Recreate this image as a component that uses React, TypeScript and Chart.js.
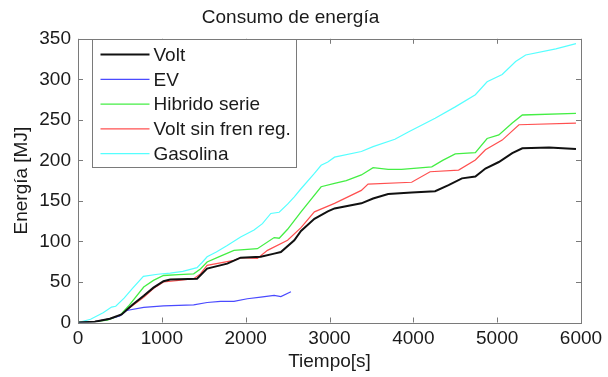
import React, { useEffect, useRef } from "react";
import { Chart, registerables } from "chart.js";

Chart.register(...registerables);

// ---- data (time in s, energy in MJ) ----
const seriesLabels = ["Volt", "EV", "Hibrido serie", "Volt sin fren reg.", "Gasolina"];

const voltT = [0, 200, 380, 520, 650, 784, 900, 1020, 1100, 1420, 1540, 1780, 1940, 2180, 2340, 2420, 2580, 2660, 2820, 2980, 3060, 3380, 3520, 3700, 3980, 4260, 4420, 4580, 4740, 4860, 5020, 5180, 5300, 5620, 5940];
const voltE = [0, 1, 4.6, 10, 22, 33, 43, 51, 53, 54, 66.5, 72.6, 80, 81, 85, 87, 101.5, 113, 128, 137, 140.7, 147, 153, 158.4, 160.5, 162, 169.5, 177.8, 180, 190, 198, 209, 215, 216, 214];

const evT = [0, 200, 380, 500, 580, 784, 1020, 1380, 1540, 1700, 1860, 2020, 2180, 2340, 2420, 2540];
const evE = [0, 1, 4.6, 8, 14.8, 18.6, 20.6, 21.8, 24.7, 26, 26, 29.3, 31.4, 33.4, 32, 38];

const hibT = [0, 200, 350, 500, 600, 784, 900, 1020, 1200, 1380, 1460, 1540, 1700, 1860, 2140, 2340, 2400, 2500, 2660, 2900, 3060, 3200, 3380, 3520, 3700, 3860, 4220, 4350, 4500, 4740, 4880, 5020, 5180, 5300, 5940];
const hibE = [0, 1, 3, 8.6, 20, 43.7, 52, 58, 59, 60, 66, 74.6, 82, 89, 91, 104.8, 104, 115, 136.5, 167.5, 171.6, 175, 182, 191, 189, 189, 192, 200, 208, 209.5, 227, 231.4, 246, 256, 258];

const sinT = [0, 200, 380, 500, 600, 784, 900, 1020, 1200, 1380, 1460, 1540, 1860, 1940, 2140, 2260, 2500, 2660, 2820, 3060, 3140, 3380, 3460, 3980, 4200, 4540, 4740, 4860, 5060, 5260, 5940];
const sinE = [0, 1, 4.6, 8.6, 17, 31, 42, 50, 52, 54, 60, 70.5, 76.7, 80, 79, 89, 101.5, 117, 136.5, 147, 151, 163, 170.8, 173, 186, 188, 200.5, 213, 225, 244, 246];

const gasT = [0, 150, 300, 400, 450, 550, 650, 780, 950, 1100, 1250, 1420, 1480, 1540, 1650, 1780, 1940, 2100, 2200, 2300, 2400, 2500, 2580, 2660, 2820, 2900, 2980, 3060, 3380, 3520, 3780, 3940, 4260, 4500, 4740, 4880, 5060, 5220, 5340, 5700, 5940];
const gasE = [0, 4, 12, 19, 20, 30, 42, 57, 59.5, 61, 63, 67.7, 74, 81, 87, 95, 105.6, 114, 122, 134.5, 136, 146, 155, 165, 184, 194, 198, 204, 211, 217, 226, 235, 252, 266, 281, 297, 306, 322, 330, 337.5, 344];

const xTickValues = [0, 1000, 2000, 3000, 4000, 5000, 6000];
const yTickValues = [0, 50, 100, 150, 200, 250, 300, 350];

const FONT = '"Liberation Sans", Arial, sans-serif';
const TEXT = "#1a1a1a";
const FRAME = "#7a7a7a";

const toPts = (t: number[], e: number[]) => t.map((v, i) => ({ x: v, y: e[i] }));

const framePlugin = {
  id: "matlabFrame",
  afterDraw(chart: any) {
    const { ctx, chartArea } = chart;
    const { left, right, top, bottom } = chartArea;
    const xs = chart.scales.x;
    const ys = chart.scales.y;
    ctx.save();
    ctx.strokeStyle = FRAME;
    ctx.lineWidth = 1;
    ctx.strokeRect(Math.round(left) + 0.5, Math.round(top) + 0.5, Math.round(right - left), Math.round(bottom - top));
    const tl = 5;
    ctx.beginPath();
    xTickValues.forEach((v) => {
      const px = Math.round(xs.getPixelForValue(v)) + 0.5;
      ctx.moveTo(px, bottom);
      ctx.lineTo(px, bottom - tl);
      ctx.moveTo(px, top);
      ctx.lineTo(px, top + tl);
    });
    yTickValues.forEach((v) => {
      const py = Math.round(ys.getPixelForValue(v)) + 0.5;
      ctx.moveTo(left, py);
      ctx.lineTo(left + tl, py);
      ctx.moveTo(right, py);
      ctx.lineTo(right - tl, py);
    });
    ctx.stroke();

    // legend box
    const lx = Math.round(left + 14) + 0.5;
    const ly = Math.round(top) + 0.5;
    const lw = 204;
    const lh = 128;
    ctx.fillStyle = "#ffffff";
    ctx.fillRect(lx, ly, lw, lh);
    ctx.strokeRect(lx, ly, lw, lh);
    ctx.font = `19px ${FONT}`;
    ctx.textBaseline = "middle";
    ctx.textAlign = "left";
    chart.data.datasets.forEach((ds: any, i: number) => {
      const ry = ly + 15 + i * 24.8;
      ctx.strokeStyle = ds.borderColor;
      ctx.lineWidth = ds.borderWidth;
      ctx.beginPath();
      ctx.moveTo(lx + 8, ry);
      ctx.lineTo(lx + 57, ry);
      ctx.stroke();
      ctx.fillStyle = TEXT;
      ctx.fillText(ds.label, lx + 61, ry + 1);
    });
    ctx.restore();
  },
};

export default function App() {
  const ref = useRef<HTMLCanvasElement | null>(null);
  useEffect(() => {
    if (!ref.current) return;
    const colors = ["#111111", "#4a4aff", "#44ee44", "#ff5050", "#55ffff"];
    const widths = [2, 1.2, 1.3, 1.2, 1.2];
    const pts = [toPts(voltT, voltE), toPts(evT, evE), toPts(hibT, hibE), toPts(sinT, sinE), toPts(gasT, gasE)];
    const chart = new Chart(ref.current, {
      type: "line",
      data: {
        datasets: pts.map((d, i) => ({
          label: seriesLabels[i],
          data: d,
          borderColor: colors[i],
          backgroundColor: colors[i],
          borderWidth: widths[i],
          pointRadius: 0,
          tension: 0,
          fill: false,
        })),
      },
      options: {
        animation: false,
        responsive: false,
        maintainAspectRatio: false,
        layout: { padding: { left: 0, right: 27, top: 0, bottom: 0 } },
        plugins: {
          legend: { display: false },
          tooltip: { enabled: false },
          title: {
            display: true,
            text: "Consumo de energía",
            color: TEXT,
            font: { family: FONT, size: 19, weight: "normal" },
            padding: { top: 6, bottom: 10 },
          },
        },
        scales: {
          x: {
            type: "linear",
            min: 0,
            max: 6000,
            afterBuildTicks: (s: any) => {
              s.ticks = xTickValues.map((v) => ({ value: v }));
            },
            afterFit: (s: any) => {
              s.height = 54.5;
            },
            grid: { display: false, drawTicks: false },
            border: { display: false },
            ticks: {
              color: TEXT,
              font: { family: FONT, size: 19 },
              padding: 5,
              maxRotation: 0,
              autoSkip: false,
              callback: (v: any) => String(v),
            },
            title: {
              display: true,
              text: "Tiempo[s]",
              color: TEXT,
              font: { family: FONT, size: 19 },
              padding: { top: 4, bottom: 4 },
            },
          },
          y: {
            type: "linear",
            min: 0,
            max: 350,
            afterBuildTicks: (s: any) => {
              s.ticks = yTickValues.map((v) => ({ value: v }));
            },
            afterFit: (s: any) => {
              s.width = 78;
            },
            grid: { display: false, drawTicks: false },
            border: { display: false },
            ticks: {
              color: TEXT,
              font: { family: FONT, size: 19 },
              padding: 7,
              autoSkip: false,
              callback: (v: any) => String(v),
            },
            title: {
              display: true,
              text: "Energía [MJ]",
              color: TEXT,
              font: { family: FONT, size: 19 },
              padding: { top: 10, bottom: 10 },
            },
          },
        },
      },
      plugins: [framePlugin],
    });
    return () => chart.destroy();
  }, []);
  return (
    <div style={{ position: "absolute", left: 0, top: 0, width: 608, height: 377, background: "#fff" }}>
      <canvas ref={ref} width={608} height={377} style={{ display: "block" }} />
    </div>
  );
}
